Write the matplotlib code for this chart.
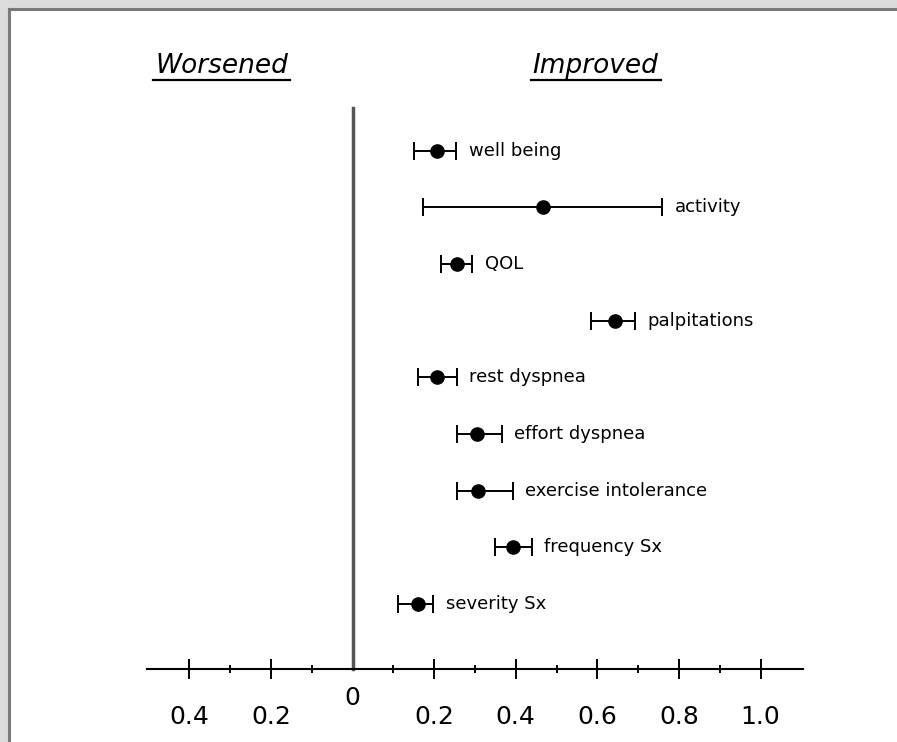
import numpy as np
import matplotlib
matplotlib.use('Agg')
from matplotlib import pyplot as plt
from matplotlib.lines import Line2D
from matplotlib.patches import Rectangle

# outcome measures, top to bottom
labels = ['well being', 'activity', 'QOL', 'palpitations', 'rest dyspnea',
          'effort dyspnea', 'exercise intolerance', 'frequency Sx',
          'severity Sx']
means = [0.207, 0.466, 0.256, 0.644, 0.207, 0.305, 0.307, 0.393, 0.161]
lower = [0.151, 0.173, 0.217, 0.585, 0.161, 0.256, 0.256, 0.349, 0.112]
upper = [0.254, 0.759, 0.293, 0.693, 0.256, 0.366, 0.393, 0.439, 0.198]

major_ticks = [-0.4, -0.2, 0.2, 0.4, 0.6, 0.8, 1.0]
major_labels = ['0.4', '0.2', '0.2', '0.4', '0.6', '0.8', '1.0']
minor_ticks = [-0.3, -0.1, 0.1, 0.3, 0.5, 0.7, 0.9]

W, H = 897, 742
fig = plt.figure(figsize=(W / 100, H / 100), dpi=100, facecolor='#dcdcdc')

# white page with a dark frame on the top and left edges
fig.add_artist(Rectangle((8 / W, 0), 1, (H - 8) / H, transform=fig.transFigure,
                         facecolor='white', edgecolor='none', zorder=-10))
fig.add_artist(Line2D([8.5 / W, 8.5 / W], [0, (H - 8.5) / H],
                      transform=fig.transFigure, color='#7a7a7a', lw=2.2,
                      zorder=-5))
fig.add_artist(Line2D([8.5 / W, 1], [(H - 9) / H, (H - 9) / H],
                      transform=fig.transFigure, color='#7a7a7a', lw=2.2,
                      zorder=-5))

ax = fig.add_axes([10 / W, 0, (W - 10) / W, (H - 10) / H])
ax.set_facecolor('none')

x0, xs = 352.5, 408.0   # pixel of zero, pixels per unit
y0, ys = 150.8, 56.65   # pixel of first row, pixels per row
ax.set_xlim((10 - x0) / xs, (W - x0) / xs)
ax.set_ylim((H - y0) / ys, (10 - y0) / ys)

means = np.array(means)
lower = np.array(lower)
upper = np.array(upper)
y = np.arange(len(labels))

ax.errorbar(means, y, xerr=[means - lower, upper - means], fmt='o',
            color='black', ms=9.5, capsize=6.5, elinewidth=1.4,
            capthick=1.4, zorder=3)

for lab, u, yy in zip(labels, upper, y):
    ax.annotate(lab, (u, yy), xytext=(9, 0), textcoords='offset points',
                va='center', ha='left', fontsize=13)

axis_y = (668.5 - y0) / ys
ax.plot([0, 0], [(108 - y0) / ys, axis_y], color='#555555', lw=2.5, zorder=2)

for s in ['left', 'right', 'top']:
    ax.spines[s].set_visible(False)
ax.spines['bottom'].set_position(('data', axis_y))
ax.spines['bottom'].set_bounds(-0.503, 1.105)
ax.spines['bottom'].set_linewidth(1.5)
ax.set_yticks([])
ax.set_xticks(major_ticks)
ax.set_xticklabels(major_labels)
ax.set_xticks(minor_ticks, minor=True)
ax.tick_params(axis='x', which='major', direction='inout', length=15,
               width=1.4, labelsize=18, pad=19)
ax.tick_params(axis='x', which='minor', direction='inout', length=6,
               width=1.4)

ax.text(0, (698 - y0) / ys, '0', ha='center', va='center', fontsize=18)

# headers, underlined
hy = (66 - y0) / ys
heads = [ax.text(-0.32, hy, 'Worsened', ha='center', va='center',
                 fontsize=19, style='italic'),
         ax.text(0.596, hy, 'Improved', ha='center', va='center',
                 fontsize=19, style='italic')]
fig.canvas.draw()
inv = ax.transData.inverted()
for t in heads:
    bb = t.get_window_extent()
    (a, _), (b, _) = inv.transform([[bb.x0, bb.y0], [bb.x1, bb.y0]])
    ax.plot([a - 0.005, b + 0.005], [(80 - y0) / ys] * 2, color='black',
            lw=1.6)

fig.savefig('out.png', dpi=100, facecolor=fig.get_facecolor())
